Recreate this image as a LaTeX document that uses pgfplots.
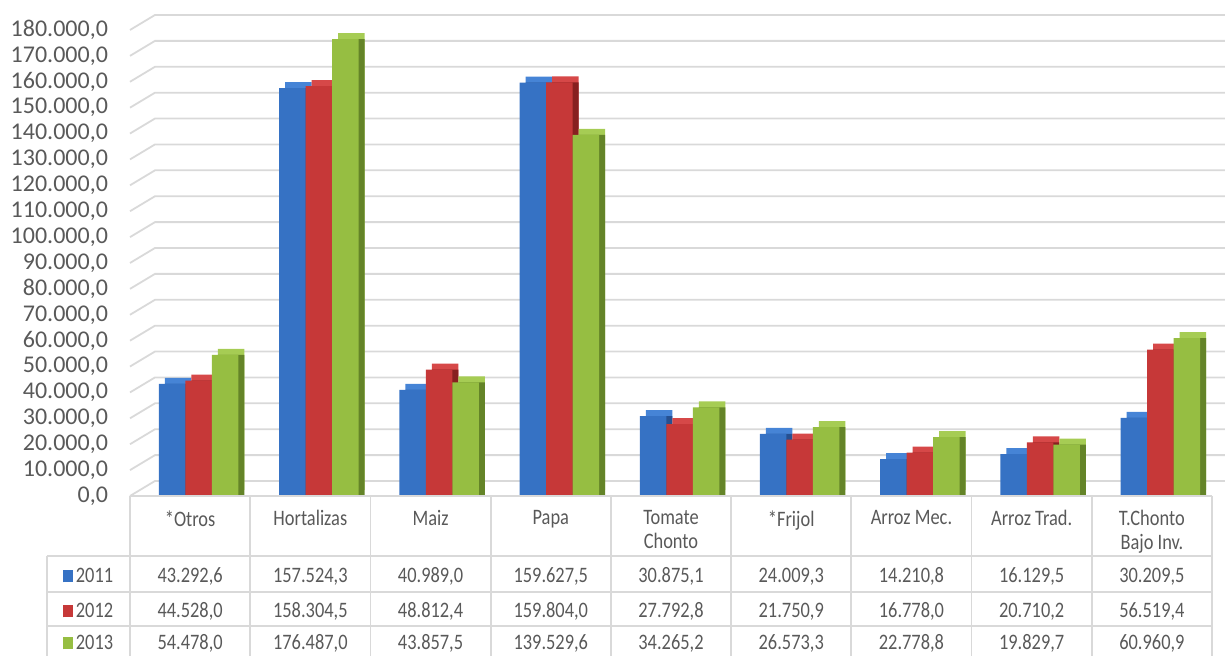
\documentclass[border=0pt]{standalone}
\usepackage{pgfplots}
\pgfplotsset{compat=1.18}
\usepackage{pgfplotstable}
\usepackage{fontspec}
\setmainfont{Carlito}

\definecolor{gridc}{RGB}{217,217,217}
\definecolor{txt}{RGB}{89,89,89}
\definecolor{bfront}{RGB}{54,114,196}
\definecolor{bside}{RGB}{38,80,145}
\definecolor{btop}{RGB}{70,132,214}
\definecolor{rfront}{RGB}{198,56,56}
\definecolor{rside}{RGB}{135,32,32}
\definecolor{rtop}{RGB}{214,72,72}
\definecolor{gfront}{RGB}{150,190,66}
\definecolor{gside}{RGB}{100,132,40}
\definecolor{gtop}{RGB}{166,204,84}

\pgfkeys{/pgf/number format/.cd, fixed, fixed zerofill, precision=1, use comma, 1000 sep={.}, assume math mode=true}

% values per crop, 2011 - 2013
\pgfplotstableread{
x  y2011     y2012     y2013
0  43292.6   44528.0   54478.0
1  157524.3  158304.5  176487.0
2  40989.0   48812.4   43857.5
3  159627.5  159804.0  139529.6
4  30875.1   27792.8   34265.2
5  24009.3   21750.9   26573.3
6  14210.8   16778.0   22778.8
7  16129.5   20710.2   19829.7
8  30209.5   56519.4   60960.9
}\data

\tikzset{tabtxt/.style={font=\fontsize{9.2}{10}\selectfont, yscale=1.2, color=txt}}

\begin{document}
\begin{tikzpicture}
\useasboundingbox (-65pt,-80pt) rectangle (547.5pt,248pt);
\begin{axis}[
    at={(0,0)}, anchor=south west,
    width=541pt, height=233pt, scale only axis,
    xmin=-0.5, xmax=8.5, ymin=0, ymax=180000,
    clip=false,
    axis line style={draw=none},
    major tick length=0pt,
    ytick distance=10000,
    scaled y ticks=false,
    yticklabel style={font=\fontsize{12}{14}\selectfont, color=txt, xshift=-7.5pt},
    xtick={0,...,8},
    xticklabels={{*Otros},{Hortalizas},{Maiz},{Papa},{Tomate\\Chonto},{*Frijol},{Arroz Mec.},{Arroz Trad.},{T.Chonto\\Bajo Inv.}},
    xticklabel style={tabtxt, align=center, anchor=north, yshift=-2.5pt},
    every node near coord/.append style={tabtxt, text height=7pt, text depth=0pt},
]
% back wall gridlines
\pgfplotsinvokeforeach{0,10000,20000,30000,40000,50000,60000,70000,80000,90000,100000,110000,120000,130000,140000,150000,160000,170000,180000}{
  \draw[gridc, line width=0.9pt] (axis cs:-0.5,#1) -- ++(12.5pt,7.5pt) -- ([xshift=6.5pt,yshift=7.5pt]axis cs:8.5,#1);
}
% 2011
\addplot[ybar, bar width=13.25pt, bar shift=-6pt, yshift=3pt, fill=btop, draw=none, forget plot] table[x=x,y=y2011]{\data};
\addplot[ybar, bar width=13.25pt, bar shift=-6pt, fill=bside, draw=none, forget plot] table[x=x,y=y2011]{\data};
\addplot[ybar, bar width=13.25pt, bar shift=-9pt, fill=bfront, draw=none] table[x=x,y=y2011]{\data};
% 2012
\addplot[ybar, bar width=13.25pt, bar shift=7.25pt, yshift=3pt, fill=rtop, draw=none, forget plot] table[x=x,y=y2012]{\data};
\addplot[ybar, bar width=13.25pt, bar shift=7.25pt, fill=rside, draw=none, forget plot] table[x=x,y=y2012]{\data};
\addplot[ybar, bar width=13.25pt, bar shift=4.25pt, fill=rfront, draw=none] table[x=x,y=y2012]{\data};
% 2013
\addplot[ybar, bar width=13.25pt, bar shift=20.5pt, yshift=3pt, fill=gtop, draw=none, forget plot] table[x=x,y=y2013]{\data};
\addplot[ybar, bar width=13.25pt, bar shift=20.5pt, fill=gside, draw=none, forget plot] table[x=x,y=y2013]{\data};
\addplot[ybar, bar width=13.25pt, bar shift=17.5pt, fill=gfront, draw=none] table[x=x,y=y2013]{\data};
% data table rows
\addplot[draw=none, mark=none, forget plot, nodes near coords={\pgfmathprintnumber{\pgfplotspointmeta}},
    point meta=explicit symbolic, nodes near coords align=center]
    table[x=x, y expr=-30130, meta=y2011]{\data};
\addplot[draw=none, mark=none, forget plot, nodes near coords={\pgfmathprintnumber{\pgfplotspointmeta}},
    point meta=explicit symbolic, nodes near coords align=center]
    table[x=x, y expr=-43650, meta=y2012]{\data};
\addplot[draw=none, mark=none, forget plot, nodes near coords={\pgfmathprintnumber{\pgfplotspointmeta}},
    point meta=explicit symbolic, nodes near coords align=center]
    table[x=x, y expr=-56010, meta=y2013]{\data};
\end{axis}
% table rules
\foreach \k in {0,...,9} {
  \draw[gridc, line width=0.9pt] (\k*60.111pt,0) -- (\k*60.111pt,-80pt);
}
\draw[gridc, line width=0.9pt] (-41.5pt,-30pt) -- (-41.5pt,-80pt);
\draw[gridc, line width=0.9pt] (0,0) -- (541pt,0);
\foreach \yy in {-30,-48,-65} {
  \draw[gridc, line width=0.9pt] (-41.5pt,\yy pt) -- (541pt,\yy pt);
}
\foreach \yy/\lab/\c in {-39/2011/bfront, -56.5/2012/rfront, -72.5/2013/gfront} {
  \node[tabtxt, anchor=center, text height=7pt, text depth=0pt]
    at (-21pt,\yy pt) {\textcolor{\c}{\rule{5pt}{5pt}}\,\lab};
}
\end{tikzpicture}
\end{document}
